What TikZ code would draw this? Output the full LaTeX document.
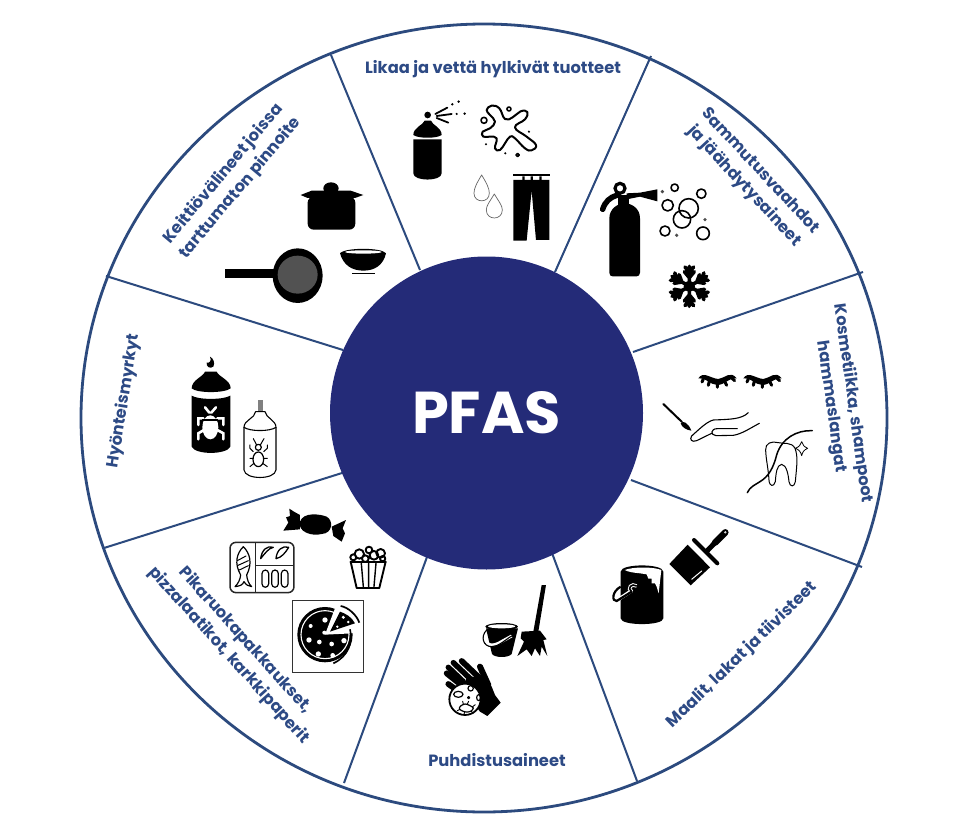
\documentclass[tikz,border=0pt]{standalone}
\usepackage{fontspec}
\setmainfont{Poppins}
\definecolor{hubblue}{HTML}{242B78}
\definecolor{rimblue}{HTML}{2C4A7E}
\definecolor{txtblue}{HTML}{2D4A85}
\tikzset{
  zm/.style={x=0.3333pt,y=-0.3333pt},
  blk/.style={fill=black,draw=none},
  ol/.style={draw=black,line width=#1,fill=none,line cap=round,line join=round},
  ol/.default=1.2pt,
  bar/.style={draw=black,line width=#1,line cap=round},
  wbar/.style={draw=white,line width=#1,line cap=round},
  spoke/.style={draw=rimblue,line width=2pt},
  lab/.style={text=txtblue,font=\bfseries\fontsize{16.3}{22}\selectfont,align=center,inner sep=0pt},
}
\begin{document}
\begin{tikzpicture}[x=1pt,y=-1pt]
\useasboundingbox (0,0) rectangle (969,832);
\fill[white] (0,0) rectangle (969,832);
% wheel
\draw[rimblue,line width=2.8pt] (484,418) ellipse [x radius=403,y radius=394];
\coordinate (o1) at (331,55);  \coordinate (i1) at (420,270);
\coordinate (o2) at (651,56);  \coordinate (i2) at (555,272);
\coordinate (o3) at (863,272); \coordinate (i3) at (633,352);
\coordinate (o4) at (862,567); \coordinate (i4) at (631,480);
\coordinate (o5) at (637,781); \coordinate (i5) at (552,553);
\coordinate (o6) at (344,783); \coordinate (i6) at (427,557);
\coordinate (o7) at (104,548); \coordinate (i7) at (342,473);
\coordinate (o8) at (106,276); \coordinate (i8) at (343,350);
\foreach \k in {1,...,8} \draw[spoke] (o\k) -- (i\k);
\node[circle,fill=hubblue,minimum size=313pt,inner sep=0pt,text=white,font=\bfseries\fontsize{59}{63}\selectfont] (hub) at (486.5,413) {PFAS};
% labels
\node[lab] (l1) at (493,69) {Likaa ja vettä hylkivät tuotteet};
\node[lab,rotate=-47] (l2) at (752,179) {Sammutusvaahdot\\ja jäähdytysaineet};
\node[lab,rotate=-82] (l3) at (842,405) {Kosmetiikka, shampoot\\hammaslangat};
\node[lab,rotate=44] (l4) at (742,655) {Maalit, lakat ja tiivisteet};
\node[lab] (l5) at (497,760) {Puhdistusaineet};
\node[lab,rotate=-48] (l6) at (237,648) {Pikaruokapakkaukset,\\pizzalaatikot, karkkipaperit};
\node[lab,rotate=81] (l7) at (124,401) {Hyönteismyrkyt};
\node[lab,rotate=50] (l8) at (232,181) {Keittiövälineet joissa\\tarttumaton pinnoite};

% ---- sector 1: spray, splat, drops, trousers
\begin{scope}[shift={(330,40)},zm]
  \fill[blk] (250,298) -- (335,298) -- (335,400) .. controls (335,425) and (250,425) .. (250,400) -- cycle;
  \fill[blk] (250,285) .. controls (250,262) and (280,255) .. (284,242) -- (303,242) .. controls (306,255) and (335,262) .. (335,285) .. controls (320,296) and (265,296) .. (250,285) -- cycle;
  \fill[blk] (293,225) circle (10);
  \draw[bar=1.8pt] (316,222) -- (352,203) (320,228) -- (365,222) (320,234) -- (355,248);
  \fill[blk] (367,193) circle (4) (386,185) circle (4) (404,221) circle (4) (380,222) circle (3.5);
  \draw[ol=2pt] plot[smooth cycle,tension=0.75] coordinates {(485,197) (508,205) (525,237) (548,232) (572,214) (592,216) (585,238) (555,262) (590,290) (618,315) (605,331) (585,325) (555,295) (540,290) (525,310) (510,330) (495,325) (500,295) (480,290) (460,290) (458,275) (480,265) (495,245) (480,225) (470,210)};
  \draw[ol=1.6pt] (537,207) circle (6) (462,241) circle (9) (563,345) circle (5);
  \fill[blk] (597,275) circle (3.5) (468,313) circle (3.5) (526,340) circle (3.5);
  \draw[ol=0.7pt,draw=gray!80!black] (455,405) .. controls (440,430) and (432,445) .. (432,460) .. controls (432,490) and (478,490) .. (478,460) .. controls (478,445) and (470,430) .. (455,405) -- cycle;
  \draw[ol=0.7pt,draw=gray!80!black] (493,462) .. controls (478,487) and (469,497) .. (469,510) .. controls (469,542) and (517,542) .. (517,510) .. controls (517,497) and (508,487) .. (493,462) -- cycle;
  \fill[blk] (550,401) rectangle (660,409);
  \fill[blk] (550,420) -- (658,420) -- (658,600) -- (618,600) -- (605,452) -- (590,602) -- (550,602) -- cycle;
  \fill[blk] (577,409) rectangle (584,422) (602,409) rectangle (609,422) (628,409) rectangle (635,422);
\end{scope}

% ---- sector 2: extinguisher, bubbles, snowflake
\begin{scope}[shift={(590,170)},zm]
  \fill[blk] (58,145) .. controls (58,115) and (85,100) .. (104,100) .. controls (125,100) and (150,115) .. (150,145) -- (150,308) .. controls (150,316) and (145,319) .. (140,319) -- (68,319) .. controls (62,319) and (58,316) .. (58,308) -- cycle;
  \draw[black,line width=3.2pt] (90,55) circle (15);
  \draw[bar=5.5pt] (80,76) .. controls (60,82) and (45,95) .. (38,118);
  \fill[blk] (85,75) rectangle (118,105);
  \fill[blk] (110,70) -- (150,68) -- (202,58) -- (202,94) -- (150,80) -- (110,88) -- cycle;
  \draw[ol=1.6pt] (254,53) circle (11) (334,71) circle (14) (233,106) circle (17) (296,115) circle (29) (276,148) circle (26) (225,183) circle (15) (339,190) circle (19);
  \fill[black!70] (217,65) circle (5.5) (345,149) circle (5.5) (260,196) circle (5.5);
  \begin{scope}[shift={(298,349)}]
    \fill[blk] (0,0) circle (17);
    \foreach \a in {30,90,150,210,270,330}{
      \begin{scope}[rotate=\a]
        \draw[bar=3.6pt] (0,0) -- (60,0) (26,0) -- (44,15) (26,0) -- (44,-15) (42,0) -- (58,13) (42,0) -- (58,-13);
      \end{scope}}
  \end{scope}
\end{scope}

% ---- sector 3: lashes, brush & hand, tooth & floss
\begin{scope}[shift={(640,340)},zm]
  \foreach \d in {0,135}{
    \begin{scope}[shift={(\d,0)}]
      \fill[blk] (175,115) .. controls (190,92) and (210,115) .. (235,117) .. controls (255,115) and (270,90) .. (290,115) .. controls (270,110) and (255,135) .. (232,135) .. controls (210,135) and (195,110) .. (175,115) -- cycle;
      \draw[bar=3pt] (190,117) -- (186,126) (208,124) -- (205,136) (232,130) -- (232,142) (255,126) -- (260,136) (275,114) -- (284,122);
    \end{scope}}
  \draw[bar=2pt] (70,192) -- (126,246);
  \fill[blk] (122,250) .. controls (128,240) and (145,248) .. (154,272) .. controls (140,270) and (125,262) .. (122,250) -- cycle;
  \draw[ol=1.1pt] (325,218) .. controls (305,238) and (270,238) .. (220,240) .. controls (200,245) and (175,270) .. (155,288) .. controls (148,298) and (155,308) .. (170,302) -- (215,280);
  \draw[ol=1.1pt] (358,250) .. controls (330,265) and (305,282) .. (280,286) -- (228,287) .. controls (210,285) and (212,266) .. (232,266) -- (292,266);
  \draw[ol=1pt] (377,330) .. controls (375,310) and (395,302) .. (415,308) .. controls (430,312) and (455,305) .. (465,325) .. controls (475,350) and (470,380) .. (466,425) .. controls (463,442) and (450,442) .. (447,425) .. controls (445,405) and (440,375) .. (425,373) .. controls (410,375) and (408,400) .. (406,425) .. controls (402,442) and (388,440) .. (387,420) .. controls (385,385) and (378,360) .. (377,330) -- cycle;
  \draw[ol=1.5pt] (322,458) .. controls (330,440) and (345,435) .. (360,425) .. controls (385,410) and (400,385) .. (410,345) .. controls (425,295) and (470,270) .. (517,272);
  \draw[ol=0.8pt] (485,305) .. controls (488,315) and (492,320) .. (503,325) .. controls (492,330) and (488,335) .. (485,347) .. controls (482,335) and (478,330) .. (466,325) .. controls (478,320) and (482,315) .. (485,305) -- cycle;
\end{scope}

% ---- sector 4: paint can and brush
\begin{scope}[shift={(600,520)},zm]
  \fill[blk] (62,155) .. controls (62,130) and (190,130) .. (190,155) -- (190,295) .. controls (190,318) and (62,318) .. (62,295) -- cycle;
  \fill[white] (74,150) .. controls (100,140) and (160,140) .. (184,150) -- (176,220) -- (170,200) -- (165,190) -- (155,190) -- (155,176) -- (145,176) -- (140,163) -- (120,160) .. controls (100,158) and (85,156) .. (74,150) -- cycle;
  \draw[white,line width=3.5pt] (110,198) .. controls (95,188) and (80,205) .. (95,215) (95,212) -- (48,243);
  \draw[black,line width=1.6pt] (110,198) .. controls (95,188) and (80,205) .. (95,215);
  \draw[black,line width=2.2pt] (62,200) .. controls (35,215) and (35,245) .. (50,243) -- (95,215);
  \fill[blk] (208,132) -- (263,74) -- (330,142) -- (272,196) -- cycle;
  \draw[bar=4pt] (282,60) -- (352,130);
  \draw[wbar=1pt] (275,178) -- (305,153);
  \draw[bar=5pt] (322,92) -- (345,68);
  \draw[bar=6.5pt] (345,68) -- (376,37);
  \fill[white!70!gray] (376,37) circle (4);
\end{scope}

% ---- sector 5: bucket, broom, glove
\begin{scope}[shift={(430,580)},zm]
  \fill[blk] (168,145) -- (264,145) -- (245,222) .. controls (235,234) and (195,234) .. (186,222) -- cycle;
  \fill[blk] (215,140) ellipse [x radius=49,y radius=11];
  \fill[white] (215,139) ellipse [x radius=41,y radius=6];
  \draw[white,line width=3pt] (162,165) .. controls (160,195) and (185,200) .. (205,190) -- (245,168);
  \draw[black,line width=1.1pt] (170,150) .. controls (150,170) and (160,200) .. (185,200) .. controls (205,200) and (225,180) .. (245,168);
  \fill[blk] (335,15) -- (348,15) -- (325,155) -- (310,155) -- cycle;
  \fill[blk] (275,155) -- (330,152) -- (350,178) -- (340,180) -- (352,228) -- (335,200) -- (330,228) -- (315,205) -- (305,228) -- (290,208) -- (262,228) -- (282,185) -- (272,175) -- cycle;
  \draw[bar=5.5pt] (55,262) -- (100,305) (70,248) -- (130,305);
  \draw[bar=5.8pt] (95,243) -- (155,300) (55,312) -- (80,330) (50,280) -- (100,320);
  \draw[bar=6pt] (150,260) -- (175,315);
  \fill[blk] (110,290) -- (160,290) -- (185,320) -- (195,345) -- (212,368) -- (172,408) -- (150,395) -- (100,330) -- cycle;
  \fill[white] (105,358) circle (47);
  \draw[ol=1.8pt] (105,358) circle (47);
  \draw[ol=1.2pt] (122,325) circle (8) (85,343) ellipse [x radius=14,y radius=9] (146,353) ellipse [x radius=6,y radius=9] (116,353) circle (3);
  \draw[ol=1.2pt] plot[smooth cycle] coordinates {(92,378) (105,372) (118,376) (130,384) (122,394) (108,396) (95,392) (88,386)};
  \draw[ol=0.9pt] (100,372) -- (98,364) (112,372) -- (116,364) (128,380) -- (136,374) (124,394) -- (130,400) (104,396) -- (102,403) (90,388) -- (82,392);
\end{scope}

% ---- sector 6: candy, tray, popcorn, pizza
\begin{scope}[shift={(220,500)},zm]
  \fill[blk] (240,65) .. controls (232,95) and (275,110) .. (305,102) .. controls (340,100) and (340,60) .. (320,50) .. controls (300,42) and (250,35) .. (240,65) -- cycle;
  \fill[blk] (208,26) -- (222,35) -- (240,45) -- (240,88) -- (190,92) -- (205,68) -- (198,52) -- (210,48) -- cycle;
  \fill[blk] (335,80) -- (378,60) -- (368,85) -- (375,100) -- (365,125) -- (340,108) -- cycle;
  \draw[black!85,line width=1.5pt,rounded corners=6pt] (30,127) rectangle (222,278);
  \draw[black!85,line width=1.5pt] (107,127) -- (107,278) (107,197) -- (222,197);
  \draw[ol=1.2pt] (70,140) .. controls (50,160) and (42,190) .. (62,225) .. controls (60,240) and (55,250) .. (45,260) .. controls (60,258) and (68,255) .. (72,245) .. controls (78,255) and (85,258) .. (95,260) .. controls (85,250) and (82,240) .. (80,225) .. controls (98,190) and (90,160) .. (70,140) -- cycle;
  \draw[ol=1pt] (52,182) -- (78,168) (52,197) -- (85,182) (58,210) -- (85,197);
  \draw[ol=1.3pt] (122,176) .. controls (125,150) and (142,135) .. (160,142) .. controls (145,145) and (135,160) .. (122,176) -- cycle;
  \draw[ol=1.3pt] (168,176) .. controls (170,150) and (188,135) .. (206,142) .. controls (195,160) and (185,172) .. (168,176) -- cycle;
  \draw[ol=1.2pt,rounded corners=3.5pt] (126,210) rectangle (146,262) (155,210) rectangle (175,262) (184,210) rectangle (204,262);
  \draw[ol=1.9pt] (392,185) -- (410,264) -- (478,264) -- (497,185);
  \draw[ol=1.4pt] (424,190) -- (430,260) (446,190) -- (446,260) (468,190) -- (462,260);
  \draw[ol=1.9pt,fill=white] (400,172) circle (9) (418,162) circle (14) (436,176) circle (10) (447,150) circle (10) (462,166) circle (13) (482,160) circle (13) (488,176) circle (8);
  \draw[ol=1.9pt] (392,185) -- (497,185);
  \draw[black!80,line width=0.9pt] (218,302) rectangle (430,518);
  \fill[blk] (315,404) circle (83);
  \draw[white,line width=1.1pt] (315,404) circle (72);
  \fill[white] (315,404) -- (345,325) -- (410,350) -- (398,400) -- cycle;
  \fill[blk] (330,395) -- (360,335) .. controls (375,340) and (395,350) .. (405,370) -- cycle;
  \draw[black,line width=1.7pt] (362,318) .. controls (385,322) and (410,345) .. (418,368);
  \draw[black,line width=1.6pt] (390,388) .. controls (400,425) and (385,470) .. (340,490);
  \fill[white] (315,360) circle (8) (272,378) circle (6) (267,420) circle (8) (298,426) circle (7) (313,398) circle (6) (335,432) circle (7) (295,462) circle (8) (338,466) circle (7) (372,422) circle (8) (370,352) circle (5) (385,366) circle (4) (352,380) circle (4);
\end{scope}

% ---- sector 7: insect sprays
\begin{scope}[shift={(170,170)},zm]
  \fill[blk] (120,560) .. controls (130,565) and (136,578) .. (130,590) .. controls (120,598) and (108,590) .. (110,578) .. controls (120,580) and (125,572) .. (120,560) -- cycle;
  \fill[blk] (65,655) .. controls (65,630) and (100,620) .. (105,605) -- (140,605) .. controls (145,620) and (182,630) .. (182,655) .. controls (165,670) and (80,670) .. (65,655) -- cycle;
  \fill[blk] (65,677) .. controls (85,690) and (160,690) .. (181,677) -- (181,830) .. controls (170,855) and (75,855) .. (65,830) -- cycle;
  \fill[white] (121,772) ellipse [x radius=24,y radius=36];
  \draw[wbar=2.6pt] (105,712) -- (118,728) (138,712) -- (124,728) (100,745) -- (85,745) -- (85,765) (142,745) -- (160,745) -- (160,765) (102,780) -- (85,790) -- (85,808) (142,780) -- (160,790) -- (160,808);
  \draw[black,line width=1.2pt] (97,750) -- (145,750);
  \draw[ol=1.1pt] (222,772) .. controls (222,750) and (255,745) .. (257,725) -- (285,725) .. controls (288,745) and (318,750) .. (318,772) .. controls (300,785) and (240,785) .. (222,772) -- cycle;
  \draw[ol=1.1pt] (222,772) -- (222,900) .. controls (225,930) and (315,930) .. (318,900) -- (318,772);
  \fill[gray] (263,690) rectangle (278,722);
  \draw[ol=1.2pt] (265,868) ellipse [x radius=16,y radius=22] (265,832) circle (9);
  \draw[ol=1pt] (250,806) -- (260,825) (282,806) -- (271,825) (250,845) -- (240,835) -- (240,825) (281,845) -- (292,835) -- (292,825) (250,865) -- (240,865) (281,865) -- (292,865) (252,880) -- (240,890) (278,880) -- (292,890);
\end{scope}

% ---- sector 8: pan, pot, bowl
\begin{scope}[shift={(170,170)},zm]
  \fill[blk] (165,298) rectangle (325,323);
  \fill[blk] (383,317) ellipse [x radius=75,y radius=82];
  \fill[black!68] (383,314) ellipse [x radius=60,y radius=57];
  \fill[blk] (483,55) ellipse [x radius=23,y radius=18];
  \fill[blk] (392,75) -- (425,62) -- (542,62) -- (580,75) -- (555,84) -- (413,84) -- cycle;
  \fill[blk,rounded corners=6pt] (413,80) rectangle (556,179);
\end{scope}
\begin{scope}[shift={(330,40)},zm]
  \fill[blk] (30,640) .. controls (45,622) and (155,622) .. (168,640) .. controls (160,675) and (135,692) .. (100,692) .. controls (65,692) and (40,675) .. (30,640) -- cycle;
  \fill[white] (100,636) ellipse [x radius=55,y radius=5];
  \fill[blk] (65,698) rectangle (135,703);
\end{scope}
\end{tikzpicture}
\end{document}
